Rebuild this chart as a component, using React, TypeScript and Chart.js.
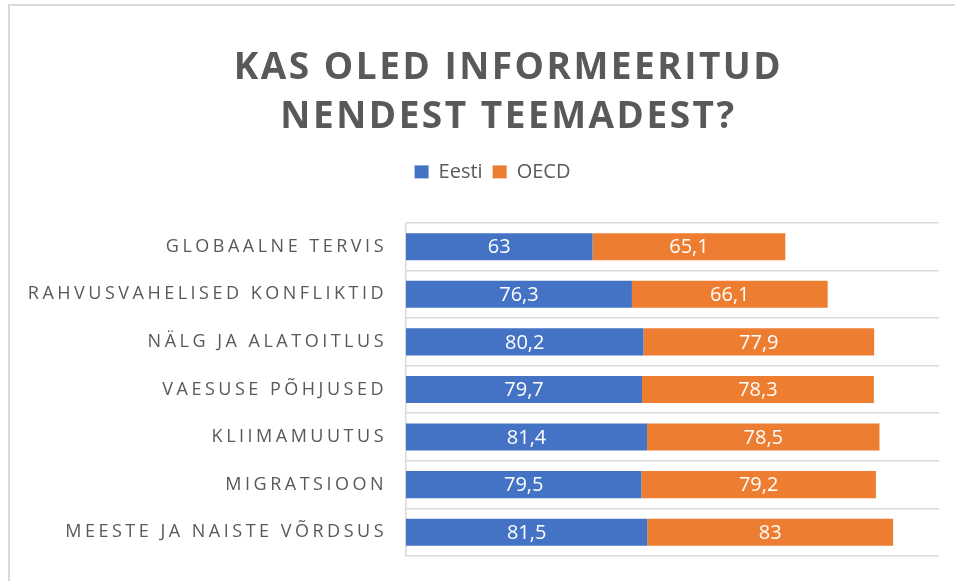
import React, { useEffect, useRef } from "react";
import { Chart, registerables } from "chart.js";

Chart.register(...registerables);

const categories = [
  "GLOBAALNE TERVIS",
  "RAHVUSVAHELISED KONFLIKTID",
  "NÄLG JA ALATOITLUS",
  "VAESUSE PÕHJUSED",
  "KLIIMAMUUTUS",
  "MIGRATSIOON",
  "MEESTE JA NAISTE VÕRDSUS",
];
const eestiValues = [63, 76.3, 80.2, 79.7, 81.4, 79.5, 81.5];
const oecdValues = [65.1, 66.1, 77.9, 78.3, 78.5, 79.2, 83];
const seriesNames = ["Eesti", "OECD"];
const titleLines = ["KAS OLED INFORMEERITUD", "NENDEST TEEMADEST?"];

const GRAY = "#595959";
const GRID = "#d9d9d9";
const FONT = "'Open Sans', sans-serif";
const AXIS_X = 406;

function patchDraw(obj: any, method: string, spacing: string, dx: number) {
  if (!obj || obj.__patched) return;
  const orig = obj[method];
  obj[method] = function (...args: any[]) {
    const c = this.ctx;
    c.save();
    c.letterSpacing = spacing;
    c.translate(dx, 0);
    orig.apply(this, args);
    c.restore();
  };
  obj.__patched = true;
}

const spacingPlugin = {
  id: "letterSpacingPatch",
  afterLayout(chart: any) {
    patchDraw(chart.scales.y, "drawLabels", "3.5px", 0);
    patchDraw(chart.titleBlock, "draw", "2.5px", 39);
    patchDraw(chart.legend, "draw", "0px", 23);
  },
};

const valueLabelPlugin = {
  id: "valueLabels",
  afterDatasetsDraw(chart: any) {
    const ctx = chart.ctx;
    ctx.save();
    ctx.font = `20px ${FONT}`;
    ctx.fillStyle = "#ffffff";
    ctx.textAlign = "center";
    ctx.textBaseline = "middle";
    chart.data.datasets.forEach((ds: any, di: number) => {
      const meta = chart.getDatasetMeta(di);
      meta.data.forEach((bar: any, i: number) => {
        const p = bar.getProps(["x", "y", "base"], true);
        const cx = (p.x + p.base) / 2;
        ctx.fillText(String(ds.data[i]).replace(".", ","), cx, p.y + 1);
      });
    });
    ctx.restore();
  },
};

export default function App() {
  const ref = useRef<HTMLCanvasElement | null>(null);

  useEffect(() => {
    if (!ref.current) return;
    const chart = new Chart(ref.current, {
      type: "bar",
      data: {
        labels: categories,
        datasets: [
          {
            label: seriesNames[0],
            data: eestiValues,
            backgroundColor: "#4472C4",
            barPercentage: 0.57,
            categoryPercentage: 1,
          },
          {
            label: seriesNames[1],
            data: oecdValues,
            backgroundColor: "#ED7D31",
            barPercentage: 0.57,
            categoryPercentage: 1,
          },
        ],
      },
      options: {
        indexAxis: "y",
        animation: false,
        responsive: true,
        maintainAspectRatio: false,
        layout: { padding: { left: 0, right: 16, top: 0, bottom: 25 } },
        plugins: {
          tooltip: { enabled: false },
          title: {
            display: true,
            text: titleLines,
            color: GRAY,
            font: { family: FONT, size: 37, weight: "bold", lineHeight: 1.35 },
            padding: { top: 43, bottom: 9 },
          },
          legend: {
            display: true,
            labels: {
              color: GRAY,
              font: { family: FONT, size: 20 },
              boxWidth: 14,
              boxHeight: 13,
              padding: 10,
            },
          },
        },
        scales: {
          x: {
            stacked: true,
            min: 0,
            max: 180,
            position: "top",
            display: true,
            grid: { display: false },
            border: { display: false },
            ticks: { display: false },
            afterFit: (s: any) => {
              s.height = 31;
            },
          },
          y: {
            stacked: true,
            grid: {
              display: true,
              offset: true,
              color: GRID,
              lineWidth: 1.5,
              drawTicks: true,
              tickLength: 16,
              tickColor: "rgba(0,0,0,0)",
            },
            border: { display: true, color: GRID, width: 1.5 },
            ticks: {
              color: GRAY,
              font: { family: FONT, size: 18 },
              padding: 3,
            },
            afterFit: (s: any) => {
              s.width = AXIS_X;
            },
          },
        },
      },
      plugins: [spacingPlugin, valueLabelPlugin],
    });
    return () => chart.destroy();
  }, []);

  return (
    <div
      style={{
        position: "absolute",
        left: 0,
        top: 0,
        width: 955,
        height: 581,
        background: "#ffffff",
        overflow: "hidden",
      }}
    >
      <div
        style={{
          position: "absolute",
          left: 8,
          top: 4,
          right: 0,
          bottom: 0,
          borderTop: `2px solid ${GRID}`,
          borderLeft: `2px solid ${GRID}`,
        }}
      />
      <canvas ref={ref} style={{ position: "absolute", left: 0, top: 0 }} />
    </div>
  );
}
